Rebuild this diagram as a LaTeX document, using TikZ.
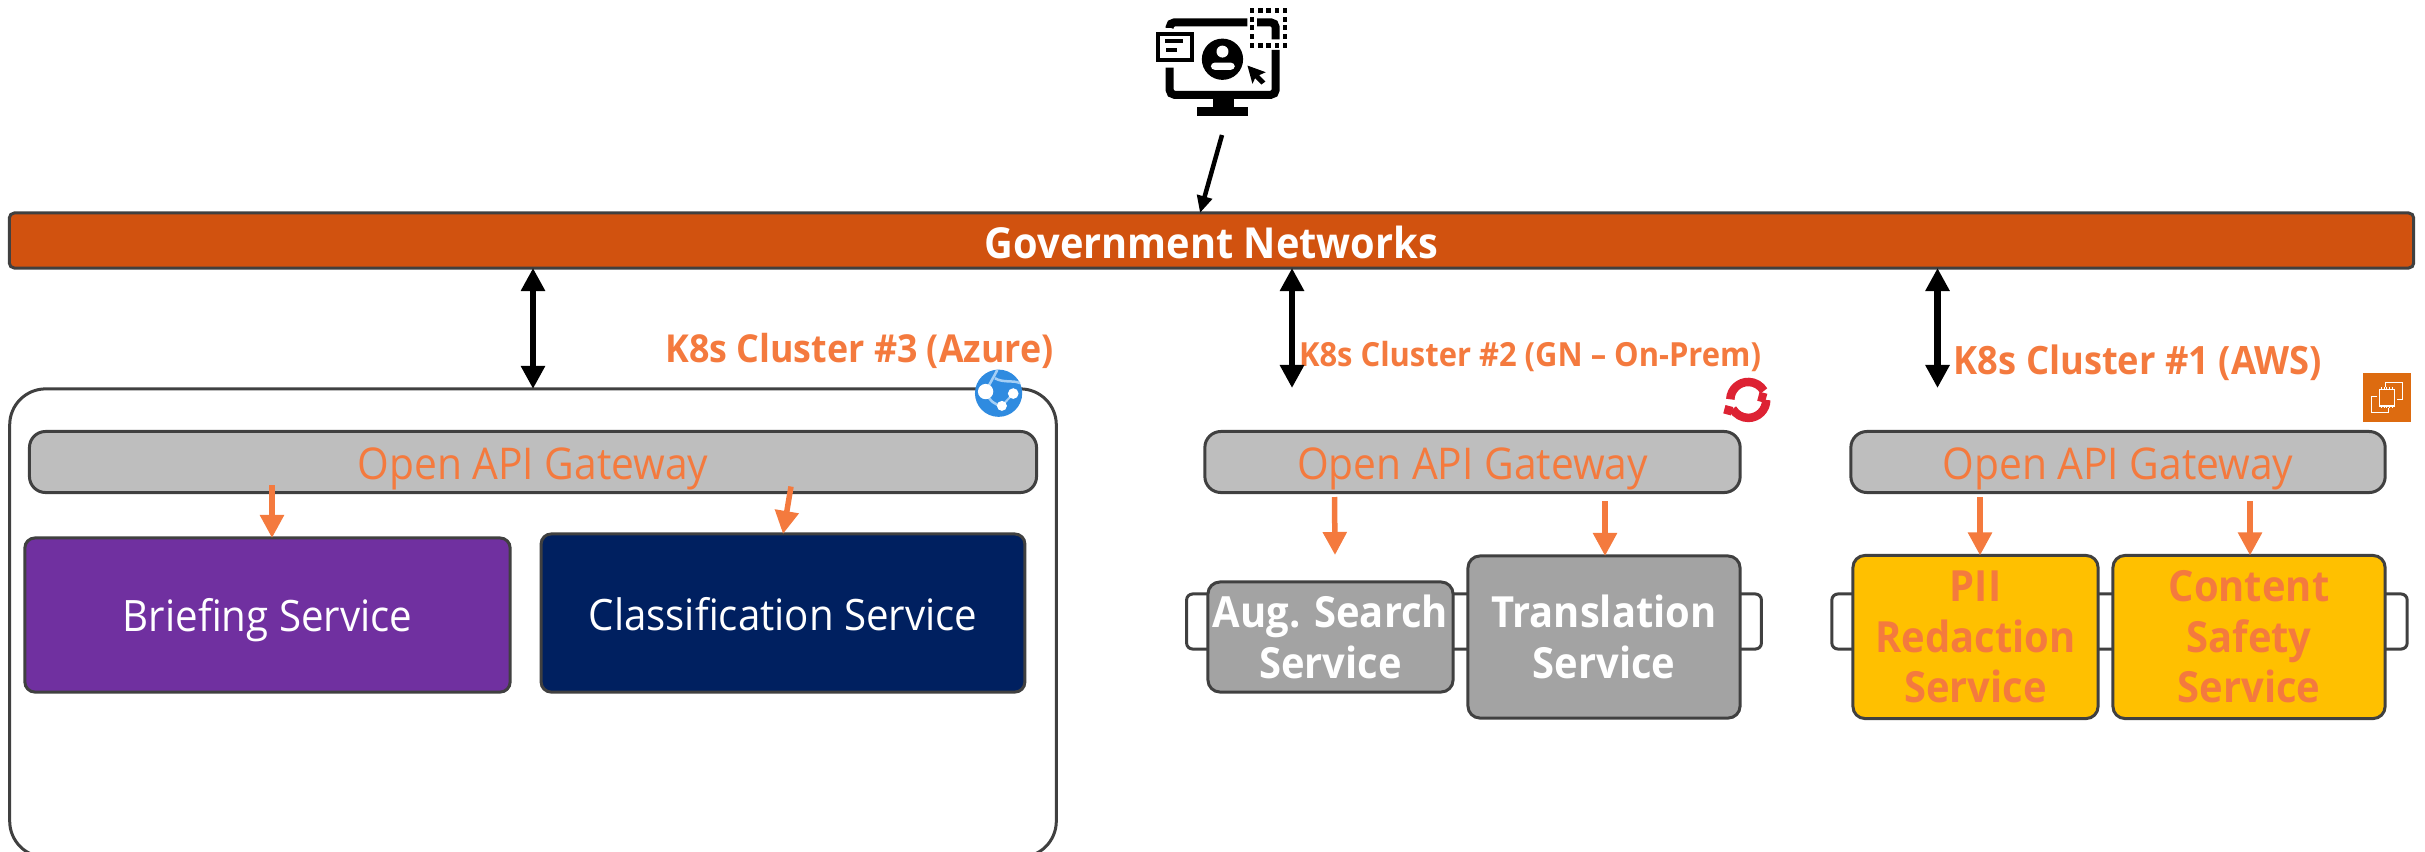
\documentclass[tikz,border=0pt]{standalone}
\usepackage{fontspec}
\setmainfont[FakeStretch=0.93]{Open Sans}
\usetikzlibrary{arrows.meta}

\definecolor{edgegray}{HTML}{404040}
\definecolor{bandorange}{HTML}{D1520F}
\definecolor{textorange}{HTML}{F47A3E}
\definecolor{gatewaygray}{HTML}{BEBEBE}
\definecolor{servicegray}{HTML}{A3A3A3}
\definecolor{briefpurple}{HTML}{7030A0}
\definecolor{classnavy}{HTML}{002060}
\definecolor{servicegold}{HTML}{FFC000}
\definecolor{redhatred}{HTML}{DD2233}
\definecolor{azureblue}{HTML}{2F8BE0}
\definecolor{azurelight}{HTML}{A5CFF5}
\definecolor{awsorange}{HTML}{DD6B10}

\tikzset{
  boxed/.style={draw=edgegray, line width=0.03cm, inner sep=0pt, outer sep=0pt, align=center},
  gateway/.style={boxed, fill=gatewaygray, rounded corners=0.16cm, minimum height=0.61cm, text=textorange,
    text height=0.375cm, text depth=0.025cm, font=\fontsize{12.45}{15}\selectfont},
  backbox/.style={boxed, fill=white, rounded corners=0.06cm, minimum height=0.55cm},
  service/.style={boxed, rounded corners=0.12cm, font=\fontsize{12.2}{14.4}\selectfont\bfseries},
  bigservice/.style={boxed, rounded corners=0.1cm, text=white, text height=0.4cm, font=\fontsize{12.3}{15}\selectfont},
  clusterlabel/.style={text=textorange, inner sep=0pt, font=\bfseries},
  blackarrow/.style={line width=0.065cm, {Triangle[length=0.23cm,width=0.23cm]}-{Triangle[length=0.23cm,width=0.23cm]}},
  orangearrow/.style={draw=textorange, line width=0.055cm, -{Triangle[length=0.23cm,width=0.23cm]}, textorange},
  userarrow/.style={line width=0.045cm, -{Triangle[length=0.17cm,width=0.15cm]}}
}

\begin{document}
\begin{tikzpicture}[x=0.01cm, y=-0.01cm]
  \path[use as bounding box] (0,0) rectangle (2425,851);

  % Network band
  \node[boxed, fill=bandorange, rounded corners=0.05cm, minimum width=24.03cm, minimum height=0.55cm,
        text=white, text height=0.35cm, text depth=0pt, font=\fontsize{12.15}{15}\selectfont\bfseries] (network) at (1211.5,240.5) {Government Networks};

  % Azure cluster frame
  \node[boxed, fill=white, rounded corners=0.36cm, minimum width=10.46cm, minimum height=4.68cm] (azure) at (533,623) {};

  % Back boxes behind the services
  \foreach \name/\x/\w in {backtwo/1474/5.745, backone/2119.5/5.75}
    \node[backbox, minimum width=\w cm] (\name) at (\x,621.5) {};

  % Gateways
  \foreach \name/\x/\w in {gatethree/533/10.065, gatetwo/1472.5/5.35, gateone/2118/5.34}
    \node[gateway, minimum width=\w cm] (\name) at (\x,462) {Open API Gateway};

  % Services
  \node[bigservice, fill=briefpurple, text depth=0.07cm, minimum width=4.85cm, minimum height=1.54cm] (briefing) at (267.5,615) {Briefing Service};
  \node[bigservice, fill=classnavy, text depth=0.06cm, minimum width=4.835cm, minimum height=1.58cm] (classification) at (783,613) {Classification Service};
  \node[service, fill=servicegray, text=white, minimum width=2.45cm, minimum height=1.1cm] (search) at (1330.5,637) {Aug. Search\\Service};
  \node[service, fill=servicegray, text=white, minimum width=2.72cm, minimum height=1.62cm] (translation) at (1604,637) {Translation\\Service};
  \node[service, fill=servicegold, text=textorange, minimum width=2.45cm, minimum height=1.63cm] (redaction) at (1975.5,637) {PII\\Redaction\\Service};
  \node[service, fill=servicegold, text=textorange, minimum width=2.72cm, minimum height=1.63cm] (safety) at (2249,637) {Content\\Safety\\Service};

  % Cluster labels
  \node[clusterlabel, font=\fontsize{10.95}{13}\selectfont\bfseries] (labelthree) at (859.5,351) {K8s Cluster \#3 (Azure)};
  \node[clusterlabel, font=\fontsize{9.45}{12}\selectfont\bfseries] (labeltwo) at (1530,356) {K8s Cluster \#2 (GN – On-Prem)};
  \node[clusterlabel, font=\fontsize{11.1}{13}\selectfont\bfseries] (labelone) at (2138,363) {K8s Cluster \#1 (AWS)};

  % Free arrow ends
  \coordinate (user) at (1222,135);
  \coordinate (userend) at (1200,213);
  \coordinate (linkthree) at (533,268);
  \coordinate (linktwo) at (1292,388);
  \coordinate (linkone) at (1937.5,388);
  \coordinate (tailbrief) at (272,485);
  \coordinate (tailclass) at (791,486.5);
  \coordinate (tailsearch) at (1334.5,497);
  \coordinate (headsearch) at (1335,555);
  \coordinate (tailtrans) at (1605,501);
  \coordinate (tailpii) at (1980,497);
  \coordinate (tailsafety) at (2250,501);

  % Arrows
  \draw[userarrow] (user) -- (network.north -| userend);
  \draw[blackarrow] (network.south -| linkthree) -- (azure.north -| linkthree);
  \draw[blackarrow] (network.south -| linktwo) -- (linktwo);
  \draw[blackarrow] (network.south -| linkone) -- (linkone);
  \draw[orangearrow] (tailbrief) -- (briefing.north -| tailbrief);
  \draw[orangearrow] (tailclass) -- (classification.north);
  \draw[orangearrow] (tailsearch) -- (headsearch);
  \draw[orangearrow] (tailtrans) -- (translation.north -| tailtrans);
  \draw[orangearrow] (tailpii) -- (redaction.north -| tailpii);
  \draw[orangearrow] (tailsafety) -- (safety.north -| tailsafety);

  % User monitor icon
  \begin{scope}[shift={(1100,0)}, x=0.003333cm, y=-0.003333cm]
    \draw[line width=0.08cm, rounded corners=0.05cm] (209,84) -- (209,67) -- (443,67);
    \draw[line width=0.08cm, rounded corners=0.05cm] (472,67) -- (528,67) -- (528,118);
    \draw[line width=0.08cm, rounded corners=0.05cm] (528,150) -- (528,285) -- (209,285) -- (209,203);
    \fill (340,295) rectangle (403,324);
    \fill (292,322) rectangle (446,348);
    \foreach \x in {457,482,507,532,556}
      \foreach \y in {32,136}
        \fill (\x-7,\y-7) rectangle (\x+7,\y+7);
    \foreach \x in {457,556}
      \foreach \y in {58,83,109}
        \fill (\x-7,\y-7) rectangle (\x+7,\y+7);
    \draw[line width=0.04cm, fill=white] (173,101) rectangle (277,179);
    \fill (195,118) rectangle (250,130);
    \fill (197,145) rectangle (232,157);
    \fill (368,178) circle (62);
    \fill[white] (368,155) circle (18);
    \fill[white, rounded corners=0.04cm] (333,210) -- (333,188) -- (405,188) -- (405,210) -- cycle;
    \fill (443,197) -- (498,217) -- (478,226) -- (497,245) -- (485,254) -- (466,235) -- (458,252) -- cycle;
  \end{scope}

  % Azure globe icon
  \begin{scope}[shift={(940,320)}, x=0.003333cm, y=-0.003333cm]
    \fill[azureblue] (176,220) circle (71);
    \draw[azurelight, line width=0.025cm] (137,215) .. controls (150,190) and (165,165) .. (172,150);
    \draw[azurelight, line width=0.025cm] (165,175) .. controls (190,190) and (225,180) .. (240,190);
    \draw[azurelight, line width=0.025cm] (137,215) .. controls (150,245) and (165,255) .. (186,258);
    \draw[azurelight, line width=0.02cm] (186,258) -- (220,221);
    \fill[white] (137,215) circle (23);
    \fill[white] (220,221) circle (16);
    \fill[white] (186,258) circle (15);
  \end{scope}

  % Red ring icon
  \begin{scope}[shift={(1700,350)}, x=0.003333cm, y=-0.003333cm]
    \draw[redhatred, line width=0.085cm] (145,150) ++(-178:54) arc[start angle=-178, end angle=-30, radius=54];
    \draw[redhatred, line width=0.085cm] (145,150) ++(0:54) arc[start angle=0, end angle=150, radius=54];
    \fill[redhatred, rotate around={-15:(187,142)}] (175,128) rectangle (199,156);
    \fill[redhatred, rotate around={-15:(85,180)}] (73,168) rectangle (97,194);
  \end{scope}

  % Instance icon
  \begin{scope}[shift={(2350,350)}, x=0.003333cm, y=-0.003333cm]
    \fill[awsorange] (39,70) rectangle (183,215);
    \draw[white, line width=0.012cm] (88,118) rectangle (133,168);
    \draw[white, line width=0.012cm] (106,112) -- (106,97) -- (158,97) -- (158,148) -- (140,148);
    \draw[white, line width=0.012cm] (82,140) -- (65,140) -- (65,188) -- (115,188) -- (115,174);
    \foreach \i in {94,102,110,118,126} {
      \draw[white, line width=0.008cm] (\i,112) -- (\i,118);
      \draw[white, line width=0.008cm] (\i,168) -- (\i,174);
    }
  \end{scope}
\end{tikzpicture}
\end{document}
